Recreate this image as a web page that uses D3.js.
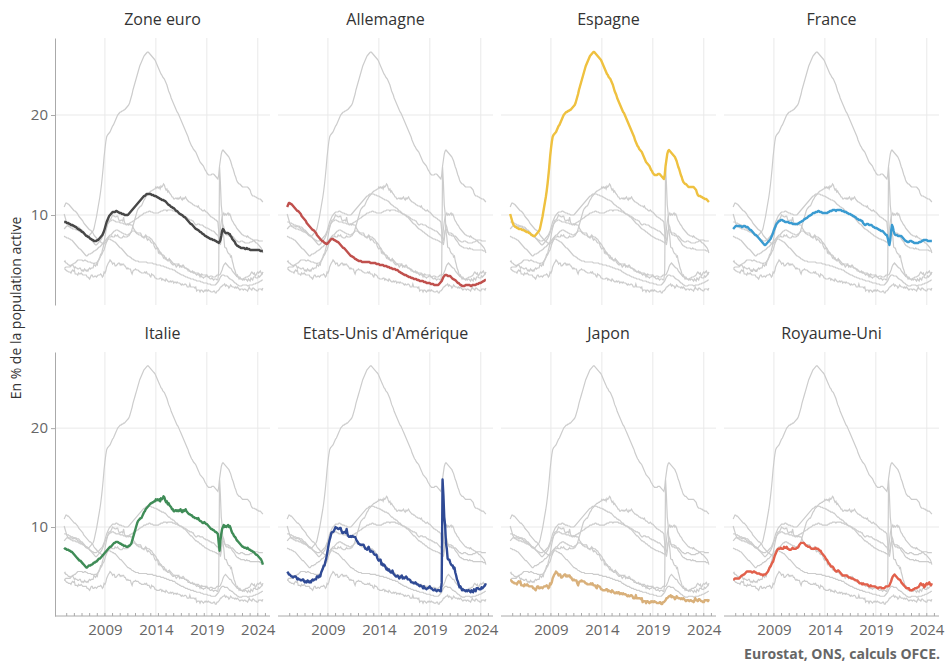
<!DOCTYPE html>
<html>
<head>
<meta charset="utf-8">
<script src="https://cdn.jsdelivr.net/npm/d3@7"></script>
<style>
body { margin: 0; background: #fff; font-family: "Open Sans", sans-serif; }
</style>
</head>
<body>
<script>
// taux de chômage mensuel, janvier 2005 -> juillet 2024
const startYear = 2005;

const zoneEuro = [
  9.3, 9.3, 9.3, 9.2, 9.2, 9.2, 9.1, 9.1, 9.0, 9.0, 9.0, 8.9,
  8.9, 8.8, 8.8, 8.7, 8.6, 8.6, 8.5, 8.5, 8.4, 8.3, 8.3, 8.2,
  8.1, 8.0, 7.9, 7.9, 7.8, 7.8, 7.7, 7.6, 7.6, 7.5, 7.5, 7.4,
  7.4, 7.4, 7.4, 7.5, 7.5, 7.6, 7.7, 7.8, 7.9, 8.0, 8.2, 8.4,
  8.7, 9.0, 9.3, 9.5, 9.7, 9.9, 10.0, 10.1, 10.2, 10.3, 10.3, 10.3,
  10.3, 10.4, 10.4, 10.3, 10.3, 10.2, 10.2, 10.2, 10.1, 10.1, 10.1, 10.0,
  10.0, 10.0, 10.0, 10.0, 10.1, 10.2, 10.3, 10.4, 10.5, 10.6, 10.7, 10.8,
  10.9, 11.0, 11.1, 11.2, 11.3, 11.4, 11.5, 11.6, 11.7, 11.8, 11.9, 11.9,
  12.0, 12.1, 12.1, 12.1, 12.1, 12.1, 12.1, 12.0, 12.0, 12.0, 11.9, 11.9,
  11.9, 11.8, 11.8, 11.7, 11.7, 11.6, 11.6, 11.5, 11.5, 11.5, 11.4, 11.4,
  11.3, 11.2, 11.1, 11.0, 11.0, 10.9, 10.8, 10.8, 10.7, 10.7, 10.6, 10.5,
  10.4, 10.4, 10.3, 10.2, 10.1, 10.1, 10.0, 10.0, 9.9, 9.8, 9.8, 9.7,
  9.6, 9.5, 9.4, 9.3, 9.2, 9.1, 9.1, 9.0, 8.9, 8.8, 8.7, 8.6,
  8.6, 8.5, 8.5, 8.4, 8.3, 8.3, 8.2, 8.1, 8.1, 8.0, 7.9, 7.9,
  7.8, 7.8, 7.7, 7.7, 7.6, 7.6, 7.6, 7.5, 7.5, 7.5, 7.4, 7.4,
  7.3, 7.3, 7.2, 7.3, 7.5, 7.9, 8.4, 8.6, 8.5, 8.3, 8.2, 8.2,
  8.2, 8.2, 8.1, 8.1, 7.9, 7.8, 7.6, 7.5, 7.4, 7.3, 7.1, 7.0,
  6.9, 6.9, 6.8, 6.8, 6.7, 6.7, 6.7, 6.7, 6.7, 6.6, 6.6, 6.7,
  6.6, 6.6, 6.6, 6.5, 6.5, 6.5, 6.5, 6.5, 6.5, 6.5, 6.5, 6.5,
  6.5, 6.5, 6.5, 6.4, 6.4, 6.4, 6.4
];

const allemagne = [
  10.8, 11.0, 11.2, 11.2, 11.1, 11.1, 11.0, 10.9, 10.8, 10.7, 10.6, 10.5,
  10.4, 10.4, 10.3, 10.2, 10.1, 9.9, 9.8, 9.7, 9.6, 9.5, 9.4, 9.2,
  9.1, 9.0, 8.9, 8.8, 8.7, 8.6, 8.5, 8.5, 8.4, 8.3, 8.2, 8.0,
  7.9, 7.8, 7.7, 7.6, 7.5, 7.4, 7.4, 7.3, 7.2, 7.2, 7.1, 7.1,
  7.2, 7.3, 7.4, 7.5, 7.6, 7.6, 7.6, 7.5, 7.5, 7.4, 7.4, 7.3,
  7.3, 7.2, 7.1, 7.0, 6.9, 6.8, 6.7, 6.7, 6.6, 6.5, 6.4, 6.3,
  6.2, 6.1, 6.0, 5.9, 5.9, 5.8, 5.8, 5.7, 5.6, 5.6, 5.5, 5.5,
  5.4, 5.4, 5.4, 5.4, 5.3, 5.3, 5.3, 5.3, 5.3, 5.3, 5.3, 5.3,
  5.3, 5.3, 5.2, 5.2, 5.2, 5.2, 5.2, 5.2, 5.2, 5.1, 5.1, 5.1,
  5.1, 5.0, 5.0, 5.0, 5.0, 5.0, 4.9, 4.9, 4.9, 4.9, 4.8, 4.8,
  4.8, 4.7, 4.7, 4.7, 4.6, 4.6, 4.6, 4.6, 4.5, 4.5, 4.5, 4.4,
  4.3, 4.3, 4.2, 4.2, 4.1, 4.1, 4.0, 4.0, 4.0, 3.9, 3.9, 3.8,
  3.8, 3.8, 3.7, 3.7, 3.7, 3.6, 3.6, 3.6, 3.6, 3.5, 3.5, 3.5,
  3.4, 3.4, 3.4, 3.4, 3.4, 3.3, 3.3, 3.3, 3.2, 3.2, 3.2, 3.2,
  3.2, 3.1, 3.1, 3.1, 3.1, 3.0, 3.0, 3.0, 3.0, 3.0, 3.0, 3.1,
  3.2, 3.3, 3.4, 3.6, 3.8, 3.9, 4.0, 4.0, 4.0, 3.9, 3.9, 3.9,
  3.9, 3.8, 3.7, 3.6, 3.6, 3.5, 3.5, 3.4, 3.3, 3.2, 3.2, 3.1,
  3.0, 3.0, 2.9, 2.9, 2.9, 2.9, 3.0, 3.0, 3.0, 3.0, 3.0, 3.0,
  2.9, 2.9, 3.0, 3.0, 3.0, 3.0, 3.0, 3.1, 3.1, 3.1, 3.2, 3.2,
  3.2, 3.3, 3.3, 3.4, 3.4, 3.5, 3.5
];

const espagne = [
  10.1, 9.8, 9.5, 9.2, 9.0, 8.9, 8.8, 8.8, 8.7, 8.7, 8.6, 8.6,
  8.6, 8.6, 8.5, 8.5, 8.5, 8.4, 8.4, 8.3, 8.3, 8.3, 8.2, 8.2,
  8.1, 8.0, 8.0, 7.9, 7.9, 7.9, 8.0, 8.1, 8.2, 8.3, 8.4, 8.6,
  9.0, 9.4, 9.8, 10.3, 10.8, 11.3, 11.8, 12.4, 13.1, 13.9, 14.8, 15.8,
  16.6, 17.3, 17.8, 18.0, 18.1, 18.2, 18.3, 18.5, 18.7, 18.9, 19.0, 19.2,
  19.4, 19.6, 19.8, 20.0, 20.1, 20.2, 20.3, 20.3, 20.4, 20.4, 20.5, 20.5,
  20.6, 20.7, 20.8, 20.9, 21.0, 21.2, 21.5, 21.8, 22.1, 22.5, 22.8, 23.1,
  23.4, 23.7, 24.0, 24.3, 24.6, 24.9, 25.1, 25.3, 25.5, 25.7, 25.9, 26.0,
  26.1, 26.2, 26.3, 26.3, 26.2, 26.1, 26.0, 25.9, 25.8, 25.7, 25.6, 25.5,
  25.3, 25.1, 24.9, 24.7, 24.5, 24.3, 24.1, 24.0, 23.8, 23.7, 23.6, 23.4,
  23.2, 23.0, 22.7, 22.4, 22.2, 22.0, 21.7, 21.5, 21.3, 21.1, 20.9, 20.7,
  20.5, 20.3, 20.2, 20.0, 19.8, 19.6, 19.4, 19.2, 19.0, 18.8, 18.6, 18.4,
  18.2, 18.0, 17.8, 17.5, 17.3, 17.1, 16.9, 16.8, 16.6, 16.5, 16.4, 16.3,
  16.1, 15.9, 15.7, 15.5, 15.3, 15.2, 15.1, 15.0, 14.9, 14.7, 14.5, 14.4,
  14.2, 14.1, 14.0, 14.0, 14.0, 14.0, 14.1, 14.1, 14.1, 14.0, 13.9, 13.8,
  13.7, 13.6, 14.0, 14.9, 15.5, 16.1, 16.4, 16.5, 16.4, 16.3, 16.2, 16.1,
  16.0, 15.9, 15.8, 15.6, 15.4, 15.1, 14.8, 14.6, 14.3, 14.0, 13.8, 13.5,
  13.3, 13.2, 13.1, 13.1, 13.0, 12.9, 12.8, 12.8, 12.8, 12.8, 12.8, 12.8,
  12.8, 12.7, 12.6, 12.5, 12.2, 12.0, 11.9, 11.9, 11.9, 11.8, 11.8, 11.7,
  11.7, 11.6, 11.6, 11.6, 11.5, 11.4, 11.3
];

const france = [
  8.6, 8.7, 8.8, 8.9, 8.9, 8.9, 8.9, 8.9, 8.9, 8.9, 8.8, 8.8,
  8.9, 8.9, 8.9, 8.8, 8.8, 8.8, 8.7, 8.6, 8.5, 8.5, 8.4, 8.3,
  8.2, 8.1, 8.0, 8.0, 7.9, 7.8, 7.7, 7.6, 7.5, 7.4, 7.3, 7.2,
  7.1, 7.0, 7.0, 7.1, 7.2, 7.3, 7.4, 7.5, 7.6, 7.8, 8.0, 8.2,
  8.5, 8.7, 8.9, 9.1, 9.2, 9.3, 9.4, 9.4, 9.5, 9.5, 9.5, 9.4,
  9.4, 9.3, 9.3, 9.3, 9.3, 9.3, 9.2, 9.2, 9.2, 9.2, 9.1, 9.1,
  9.1, 9.1, 9.1, 9.1, 9.1, 9.2, 9.2, 9.3, 9.3, 9.4, 9.4, 9.5,
  9.6, 9.6, 9.7, 9.7, 9.8, 9.9, 9.9, 10.0, 10.0, 10.1, 10.2, 10.2,
  10.2, 10.3, 10.3, 10.3, 10.4, 10.4, 10.3, 10.3, 10.3, 10.2, 10.2, 10.2,
  10.2, 10.2, 10.2, 10.2, 10.3, 10.3, 10.4, 10.4, 10.4, 10.5, 10.5, 10.5,
  10.5, 10.4, 10.5, 10.5, 10.5, 10.5, 10.5, 10.5, 10.4, 10.4, 10.4, 10.3,
  10.3, 10.3, 10.2, 10.2, 10.1, 10.1, 10.1, 10.0, 10.0, 9.9, 9.9, 9.8,
  9.8, 9.7, 9.6, 9.6, 9.5, 9.5, 9.5, 9.4, 9.4, 9.2, 9.1, 9.0,
  9.0, 9.1, 9.1, 9.1, 9.0, 9.0, 9.0, 9.0, 8.9, 8.8, 8.8, 8.7,
  8.7, 8.7, 8.6, 8.6, 8.5, 8.5, 8.4, 8.4, 8.4, 8.3, 8.2, 8.1,
  8.0, 8.0, 7.7, 7.3, 7.0, 7.5, 8.4, 9.0, 8.8, 8.4, 8.1, 8.0,
  8.0, 8.0, 7.9, 7.9, 7.9, 7.9, 7.9, 7.8, 7.7, 7.6, 7.5, 7.4,
  7.4, 7.3, 7.3, 7.3, 7.4, 7.4, 7.4, 7.3, 7.3, 7.2, 7.2, 7.2,
  7.2, 7.2, 7.2, 7.3, 7.3, 7.3, 7.4, 7.4, 7.5, 7.5, 7.5, 7.5,
  7.5, 7.4, 7.4, 7.4, 7.4, 7.4, 7.4
];

const italie = [
  7.9, 7.8, 7.8, 7.7, 7.7, 7.7, 7.6, 7.6, 7.5, 7.5, 7.4, 7.3,
  7.2, 7.1, 7.0, 6.9, 6.8, 6.7, 6.6, 6.6, 6.5, 6.4, 6.3, 6.2,
  6.1, 6.0, 5.9, 5.9, 6.0, 6.1, 6.1, 6.1, 6.2, 6.2, 6.3, 6.4,
  6.4, 6.5, 6.5, 6.6, 6.7, 6.8, 6.8, 6.9, 7.0, 7.1, 7.2, 7.3,
  7.4, 7.5, 7.6, 7.7, 7.8, 7.9, 8.0, 8.0, 8.1, 8.2, 8.3, 8.4,
  8.4, 8.5, 8.5, 8.5, 8.4, 8.4, 8.3, 8.3, 8.2, 8.2, 8.1, 8.1,
  8.1, 8.0, 8.0, 8.0, 8.1, 8.1, 8.2, 8.3, 8.6, 8.9, 9.2, 9.5,
  9.8, 10.1, 10.4, 10.6, 10.7, 10.8, 10.9, 10.9, 11.1, 11.3, 11.5, 11.6,
  11.8, 11.9, 12.0, 12.1, 12.2, 12.3, 12.4, 12.4, 12.5, 12.5, 12.6, 12.6,
  12.8, 12.7, 12.8, 12.7, 12.8, 12.6, 12.9, 12.8, 12.9, 13.1, 13.0, 12.7,
  12.5, 12.6, 12.3, 12.4, 12.2, 12.1, 12.0, 11.8, 11.8, 11.6, 11.6, 11.7,
  11.7, 11.6, 11.7, 11.6, 11.7, 11.8, 11.6, 11.5, 11.7, 11.6, 11.7, 11.8,
  11.6, 11.5, 11.4, 11.3, 11.3, 11.2, 11.2, 11.1, 11.0, 11.0, 10.9, 10.9,
  10.9, 10.8, 10.9, 10.7, 10.6, 10.6, 10.5, 10.4, 10.4, 10.5, 10.4, 10.3,
  10.3, 10.2, 10.1, 10.0, 9.9, 9.8, 9.8, 9.7, 9.7, 9.6, 9.5, 9.5,
  9.4, 9.3, 8.4, 7.6, 8.6, 9.3, 9.8, 10.0, 10.2, 10.0, 10.1, 10.0,
  10.1, 10.2, 10.0, 10.1, 9.9, 9.6, 9.4, 9.3, 9.1, 9.0, 8.9, 8.7,
  8.6, 8.5, 8.4, 8.3, 8.2, 8.1, 8.0, 8.0, 7.9, 7.9, 7.9, 7.8,
  7.9, 7.8, 7.7, 7.7, 7.6, 7.6, 7.5, 7.5, 7.4, 7.3, 7.2, 7.2,
  7.1, 7.0, 6.9, 6.8, 6.7, 6.5, 6.2
];

const etatsUnis = [
  5.3, 5.4, 5.2, 5.2, 5.1, 5.0, 5.0, 4.9, 5.0, 5.0, 5.0, 4.9,
  4.7, 4.8, 4.7, 4.7, 4.6, 4.6, 4.7, 4.7, 4.5, 4.4, 4.5, 4.4,
  4.6, 4.5, 4.4, 4.5, 4.4, 4.6, 4.7, 4.6, 4.7, 4.7, 4.7, 5.0,
  5.0, 4.9, 5.1, 5.0, 5.4, 5.6, 5.8, 6.1, 6.1, 6.5, 6.8, 7.3,
  7.8, 8.3, 8.7, 9.0, 9.4, 9.5, 9.5, 9.6, 9.8, 10.0, 9.9, 9.9,
  9.8, 9.8, 9.9, 9.9, 9.6, 9.4, 9.4, 9.5, 9.5, 9.4, 9.8, 9.3,
  9.1, 9.0, 9.0, 9.1, 9.0, 9.1, 9.0, 9.0, 9.0, 8.8, 8.6, 8.5,
  8.3, 8.3, 8.2, 8.2, 8.2, 8.2, 8.2, 8.0, 7.8, 7.8, 7.7, 7.9,
  8.0, 7.7, 7.5, 7.6, 7.5, 7.5, 7.3, 7.2, 7.2, 7.2, 6.9, 6.7,
  6.6, 6.7, 6.7, 6.2, 6.3, 6.1, 6.2, 6.1, 5.9, 5.7, 5.8, 5.6,
  5.7, 5.5, 5.4, 5.4, 5.6, 5.3, 5.2, 5.1, 5.0, 5.0, 5.1, 5.0,
  4.8, 4.9, 5.0, 5.1, 4.8, 4.9, 4.8, 4.9, 5.0, 4.9, 4.7, 4.7,
  4.7, 4.6, 4.4, 4.4, 4.4, 4.3, 4.3, 4.4, 4.3, 4.2, 4.2, 4.1,
  4.0, 4.1, 4.0, 4.0, 3.8, 4.0, 3.8, 3.8, 3.7, 3.8, 3.8, 3.9,
  4.0, 3.8, 3.8, 3.7, 3.6, 3.6, 3.7, 3.6, 3.5, 3.6, 3.6, 3.6,
  3.5, 3.5, 4.4, 14.8, 13.2, 11.0, 10.2, 8.4, 7.8, 6.8, 6.7, 6.7,
  6.4, 6.2, 6.1, 6.1, 5.8, 5.9, 5.4, 5.1, 4.7, 4.5, 4.2, 3.9,
  4.0, 3.8, 3.6, 3.7, 3.6, 3.6, 3.5, 3.6, 3.5, 3.6, 3.6, 3.5,
  3.4, 3.6, 3.5, 3.4, 3.7, 3.6, 3.5, 3.8, 3.8, 3.8, 3.7, 3.7,
  3.7, 3.9, 3.8, 3.9, 4.0, 4.1, 4.3
];

const japon = [
  4.6, 4.6, 4.5, 4.4, 4.4, 4.3, 4.3, 4.3, 4.2, 4.4, 4.5, 4.4,
  4.5, 4.1, 4.1, 4.1, 4.0, 4.2, 4.1, 4.1, 4.2, 4.1, 4.0, 4.0,
  4.0, 4.0, 4.0, 3.8, 3.8, 3.7, 3.6, 3.8, 4.0, 4.0, 3.8, 3.8,
  3.9, 3.9, 3.8, 3.9, 4.0, 4.0, 4.0, 4.1, 4.0, 3.8, 3.9, 4.3,
  4.2, 4.4, 4.8, 5.0, 5.2, 5.3, 5.5, 5.4, 5.3, 5.1, 5.2, 5.2,
  4.9, 4.9, 5.0, 5.1, 5.2, 5.2, 5.0, 5.1, 5.0, 5.1, 5.1, 4.9,
  4.9, 4.7, 4.6, 4.7, 4.6, 4.6, 4.6, 4.3, 4.1, 4.4, 4.5, 4.5,
  4.6, 4.5, 4.5, 4.5, 4.4, 4.3, 4.3, 4.2, 4.2, 4.2, 4.2, 4.3,
  4.2, 4.3, 4.1, 4.1, 4.1, 3.9, 3.8, 4.1, 4.0, 4.0, 3.9, 3.7,
  3.7, 3.6, 3.6, 3.6, 3.6, 3.7, 3.7, 3.5, 3.6, 3.5, 3.5, 3.4,
  3.6, 3.5, 3.4, 3.3, 3.3, 3.4, 3.3, 3.4, 3.4, 3.2, 3.3, 3.3,
  3.2, 3.3, 3.2, 3.2, 3.2, 3.1, 3.0, 3.1, 3.0, 3.0, 3.1, 3.1,
  3.0, 2.8, 2.8, 2.8, 3.1, 2.8, 2.8, 2.8, 2.8, 2.8, 2.7, 2.8,
  2.4, 2.5, 2.5, 2.5, 2.3, 2.5, 2.5, 2.4, 2.3, 2.4, 2.5, 2.4,
  2.5, 2.4, 2.5, 2.4, 2.4, 2.3, 2.3, 2.3, 2.4, 2.4, 2.2, 2.2,
  2.4, 2.4, 2.5, 2.6, 2.8, 2.8, 2.9, 3.0, 3.0, 3.1, 2.9, 3.0,
  2.9, 2.9, 2.7, 2.8, 3.0, 2.9, 2.8, 2.8, 2.8, 2.7, 2.8, 2.7,
  2.8, 2.7, 2.6, 2.5, 2.6, 2.6, 2.6, 2.5, 2.6, 2.6, 2.5, 2.5,
  2.4, 2.6, 2.8, 2.6, 2.6, 2.5, 2.7, 2.7, 2.6, 2.5, 2.5, 2.4,
  2.4, 2.6, 2.6, 2.6, 2.6, 2.5, 2.7
];

const royaumeUni = [
  4.7, 4.7, 4.8, 4.8, 4.8, 4.8, 4.8, 4.8, 4.9, 5.0, 5.1, 5.1,
  5.2, 5.2, 5.3, 5.4, 5.5, 5.5, 5.5, 5.5, 5.5, 5.5, 5.4, 5.4,
  5.5, 5.5, 5.4, 5.4, 5.3, 5.3, 5.3, 5.3, 5.2, 5.2, 5.2, 5.1,
  5.2, 5.2, 5.2, 5.3, 5.4, 5.5, 5.7, 5.9, 6.0, 6.2, 6.4, 6.5,
  6.8, 7.1, 7.3, 7.5, 7.7, 7.8, 7.8, 7.8, 7.9, 7.8, 7.8, 7.8,
  8.0, 7.9, 7.9, 8.0, 7.8, 7.8, 7.7, 7.7, 7.7, 7.8, 7.9, 7.8,
  7.8, 7.8, 7.8, 7.9, 7.9, 8.0, 8.2, 8.3, 8.4, 8.4, 8.4, 8.4,
  8.3, 8.2, 8.1, 8.1, 8.0, 8.0, 8.0, 7.9, 7.8, 7.8, 7.8, 7.8,
  7.8, 7.9, 7.8, 7.8, 7.8, 7.7, 7.6, 7.6, 7.4, 7.3, 7.2, 7.1,
  7.0, 6.8, 6.7, 6.6, 6.4, 6.3, 6.2, 6.0, 6.0, 6.0, 5.9, 5.7,
  5.6, 5.5, 5.5, 5.6, 5.6, 5.5, 5.4, 5.3, 5.2, 5.1, 5.1, 5.1,
  5.1, 5.1, 5.1, 5.0, 4.9, 4.9, 4.9, 4.8, 4.8, 4.8, 4.7, 4.7,
  4.6, 4.6, 4.6, 4.5, 4.4, 4.3, 4.3, 4.3, 4.2, 4.3, 4.2, 4.2,
  4.2, 4.2, 4.2, 4.1, 4.0, 4.0, 4.1, 4.0, 4.0, 4.0, 4.0, 4.0,
  3.9, 3.9, 3.8, 3.8, 3.9, 3.9, 3.9, 3.8, 3.8, 3.8, 3.8, 3.9,
  4.0, 4.0, 4.0, 4.0, 4.1, 4.3, 4.5, 4.8, 5.0, 5.1, 5.2, 5.1,
  5.0, 4.9, 4.8, 4.7, 4.7, 4.6, 4.4, 4.3, 4.2, 4.1, 4.0, 3.9,
  3.8, 3.8, 3.8, 3.8, 3.6, 3.6, 3.6, 3.6, 3.7, 3.7, 3.8, 3.8,
  3.8, 3.9, 3.9, 4.0, 4.2, 4.3, 4.2, 4.1, 4.2, 3.9, 4.0, 4.2,
  4.3, 4.2, 4.3, 4.4, 4.2, 4.1, 4.3
];

const countries = ["Zone euro", "Allemagne", "Espagne", "France",
  "Italie", "Etats-Unis d'Amérique", "Japon", "Royaume-Uni"];
const series = [zoneEuro, allemagne, espagne, france, italie, etatsUnis, japon, royaumeUni];
const colors = ["#474747", "#c0504d", "#efc13f", "#3a9bd1",
  "#3f8c57", "#2f4a95", "#d9b07a", "#e2604b"];

const yTicks = [10, 20];
const xTicks = [2009, 2014, 2019, 2024];

const w = 945;
const h = 664;

const svg = d3.select("body")
  .append("svg")
  .attr("width", w)
  .attr("height", h);

const pw = 215, gap = 8, left = 55;
const rows = [{top: 38, bottom: 305}, {top: 352, bottom: 616}];

const x = d3.scaleLinear().domain([2004.1, 2025.2]).range([0, pw]);

countries.forEach((name, p) => {
  const row = Math.floor(p / 4), col = p % 4;
  const r = rows[row];
  const y = d3.scaleLinear().domain([1, 27.7]).range([r.bottom, r.top]);
  const g = svg.append("g").attr("transform", `translate(${left + col * (pw + gap)},0)`);

  // grille
  g.selectAll(".hg").data(yTicks).enter().append("line")
    .attr("x1", 0).attr("x2", pw)
    .attr("y1", d => y(d)).attr("y2", d => y(d))
    .attr("stroke", "#e9e9e9").attr("stroke-width", 1);
  g.selectAll(".vg").data(xTicks).enter().append("line")
    .attr("x1", d => x(d)).attr("x2", d => x(d))
    .attr("y1", r.top).attr("y2", r.bottom)
    .attr("stroke", "#e9e9e9").attr("stroke-width", 1);

  const line = d3.line()
    .x((d, i) => x(startYear + i / 12))
    .y(d => y(d));

  // toutes les séries en gris
  g.selectAll(".grey").data(series).enter().append("path")
    .attr("d", line)
    .attr("fill", "none")
    .attr("stroke", "#cccccc")
    .attr("stroke-width", 1.2);

  g.append("path")
    .attr("d", line(series[p]))
    .attr("fill", "none")
    .attr("stroke", colors[p])
    .attr("stroke-width", 2.4)
    .attr("stroke-linejoin", "round");

  g.append("text")
    .text(name)
    .attr("x", pw / 2)
    .attr("y", r.top - 13)
    .attr("text-anchor", "middle")
    .attr("font-size", "16px")
    .attr("fill", "#333");

  if (col === 0) {
    const ax = g.append("g")
      .call(d3.axisLeft(y).tickValues(yTicks).tickSize(4).tickSizeOuter(0).tickPadding(3));
    ax.select(".domain").attr("stroke", "#aaa");
    ax.selectAll(".tick line").attr("stroke", "#aaa");
    ax.selectAll("text").attr("font-size", "15px").attr("fill", "#666")
      .attr("font-family", "Open Sans, sans-serif");
  }

  if (row === 1) {
    g.append("line")
      .attr("x1", 0).attr("x2", pw)
      .attr("y1", r.bottom).attr("y2", r.bottom)
      .attr("stroke", "#aaa");
    g.selectAll(".mt").data(d3.range(2005.25, 2024.8, 0.75)).enter().append("line")
      .attr("x1", d => x(d)).attr("x2", d => x(d))
      .attr("y1", r.bottom).attr("y2", r.bottom - 3)
      .attr("stroke", "#aaa");
    const bx = g.append("g")
      .attr("transform", `translate(0,${r.bottom})`)
      .call(d3.axisBottom(x).tickValues(xTicks).tickFormat(d3.format("d")).tickSize(0).tickPadding(8));
    bx.select(".domain").remove();
    bx.selectAll("text").attr("font-size", "15px").attr("fill", "#666")
      .attr("font-family", "Open Sans, sans-serif");
  }
});

svg.append("text")
  .text("En % de la population active")
  .attr("transform", "translate(21,308) rotate(-90)")
  .attr("text-anchor", "middle")
  .attr("font-size", "14px")
  .attr("fill", "#333");

svg.append("text")
  .text("Eurostat, ONS, calculs OFCE.")
  .attr("x", 940)
  .attr("y", 659)
  .attr("text-anchor", "end")
  .attr("font-size", "14px")
  .attr("font-weight", "bold")
  .attr("fill", "#666");
</script>
</body>
</html>
